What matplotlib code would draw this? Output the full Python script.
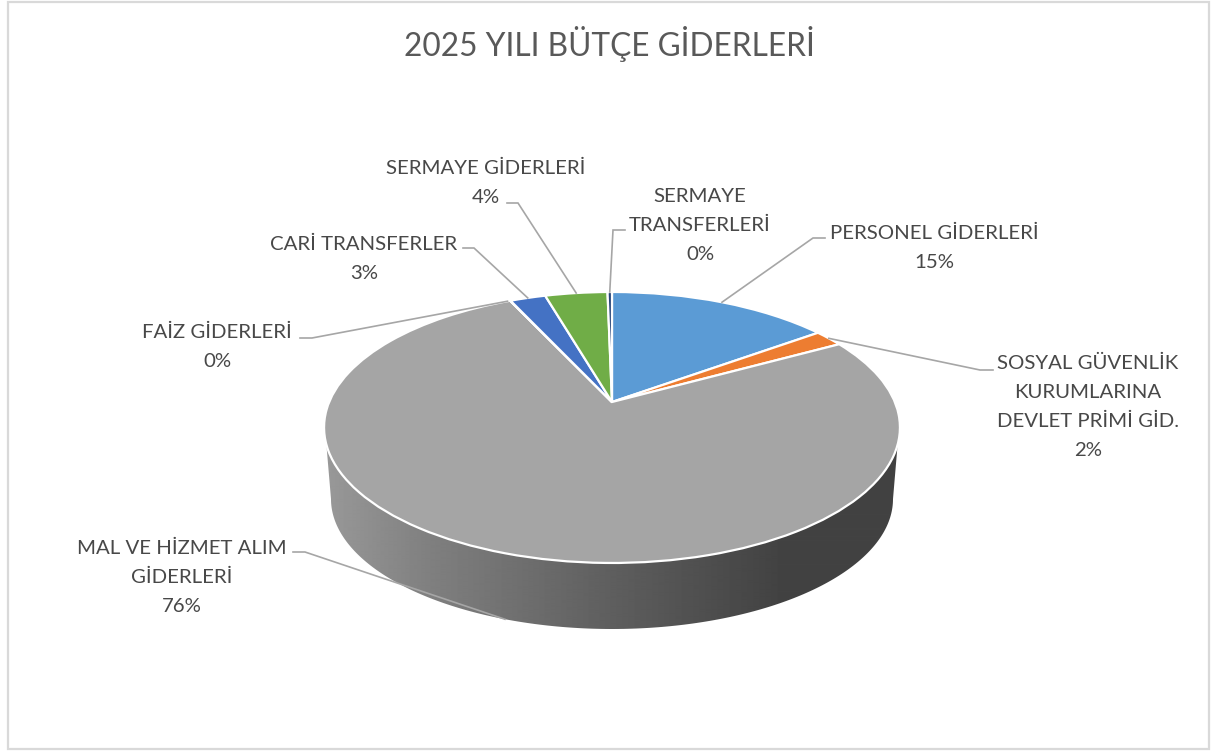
import matplotlib
matplotlib.use("Agg")
import matplotlib.pyplot as plt
import numpy as np
from matplotlib.patches import Polygon, Rectangle
from matplotlib.transforms import Transform

plt.rcParams['font.family'] = ['Lato', 'DejaVu Sans']

categories = ["PERSONEL GİDERLERİ", "SOSYAL GÜVENLİK\nKURUMLARINA\nDEVLET PRİMİ GİD.",
              "MAL VE HİZMET ALIM\nGİDERLERİ", "FAİZ GİDERLERİ", "CARİ TRANSFERLER",
              "SERMAYE GİDERLERİ", "SERMAYE\nTRANSFERLERİ"]
values = [15.0, 2.0, 76.1, 0.03, 2.4, 4.2, 0.3]
percent_labels = ["15%", "2%", "76%", "0%", "3%", "4%", "0%"]
colors = ['#5b9bd5', '#ed7d31', '#a5a5a5', '#ffc000', '#4472c4', '#70ad47', '#264478']

# pie centre and perspective of the tilted disc, in pixels
CX, CY = 612, 402
TILT_K, TILT_P, TILT_R = 0.188, 130.7, 282.8
DEPTH = 66


class PieTilt(Transform):
    """Maps the unit circle of the pie to the tilted disc on the page."""
    input_dims = 2
    output_dims = 2

    def transform_non_affine(self, xy):
        xy = np.asarray(xy, dtype=float)
        w = 1 + TILT_K * xy[:, 1]
        return np.column_stack([CX + TILT_R * xy[:, 0] / w, CY - TILT_P * xy[:, 1] / w])


tilt = PieTilt()

fig = plt.figure(figsize=(12.11, 7.53), dpi=100)
ax = fig.add_axes([0, 0, 1, 1])

wedges, _ = ax.pie(values, colors=colors, startangle=90, counterclock=False,
                   wedgeprops={'edgecolor': 'white', 'linewidth': 1.6, 'zorder': 3})
for w in wedges:
    w.set_transform(tilt + ax.transData)

# side of the disc with the shading running left to right
t = np.linspace(0, np.pi, 200)
side_pts = np.column_stack([CX + 281 * np.cos(t), 499 + 130 * np.sin(t)])
side_pts = np.vstack([[[CX + 286, 440]], side_pts, [[CX - 286, 440]]])
side = Polygon(side_pts, closed=True, transform=ax.transData, facecolor='none', edgecolor='none')
ax.add_patch(side)
xs = np.arange(320, 905)
shade = np.interp(xs, [325, 430, 612, 780, 900], [0.60, 0.50, 0.37, 0.26, 0.26])
im = ax.imshow(shade[np.newaxis, :], cmap='gray', vmin=0, vmax=1, aspect='auto',
               extent=(320, 905, 640, 420), zorder=1, interpolation='bilinear')
im.set_clip_path(side)


def rim_point(share):
    """Point on the pie rim at a given cumulative share of the total."""
    angle = 2 * np.pi * share / sum(values)
    return tilt.transform(np.array([[np.sin(angle), np.cos(angle)]]))[0]


# leader lines: label elbow to the middle of the slice
elbows = [[(825, 238), (813, 238)], [(993, 370), (980, 370)], [(293, 552), (305, 552)],
          [(300, 338), (312, 338)], [(463, 248), (474, 248)], [(507, 203), (518, 203)],
          [(625, 230), (613, 230)]]
mids = np.cumsum(values) - np.array(values) / 2
for i, pts in enumerate(elbows):
    end = rim_point(mids[i])
    if i == 2:
        end = end + np.array([0, DEPTH])
    if i == 3:
        end = rim_point(mids[i] - 0.2)
    line = np.array(pts + [tuple(end)])
    ax.plot(line[:, 0], line[:, 1], color='#a6a6a6', lw=1.2, zorder=4, solid_joinstyle='miter')

label_pos = [(934, 247.5), (1088, 407), (182, 577.5), (217, 347), (364, 258.5), (486, 183), (700, 225.5)]
for name, pct, (x, y) in zip(categories, percent_labels, label_pos):
    ax.text(x, y, name + "\n" + pct, ha='center', va='center', fontsize=14.7,
            color='#484848', linespacing=1.85, zorder=5)

ax.text(609, 43.5, "2025 YILI BÜTÇE GİDERLERİ", ha='center', va='center', fontsize=22.8, color='#595959')

ax.add_patch(Rectangle((8, 1.5), 1201, 747.5, facecolor='none', edgecolor='#d9d9d9', lw=1.6, zorder=6))

ax.set_xlim(0, 1211)
ax.set_ylim(753, 0)
ax.set_aspect('auto')
ax.axis('off')
fig.savefig('out.png', dpi=100, facecolor='white')
